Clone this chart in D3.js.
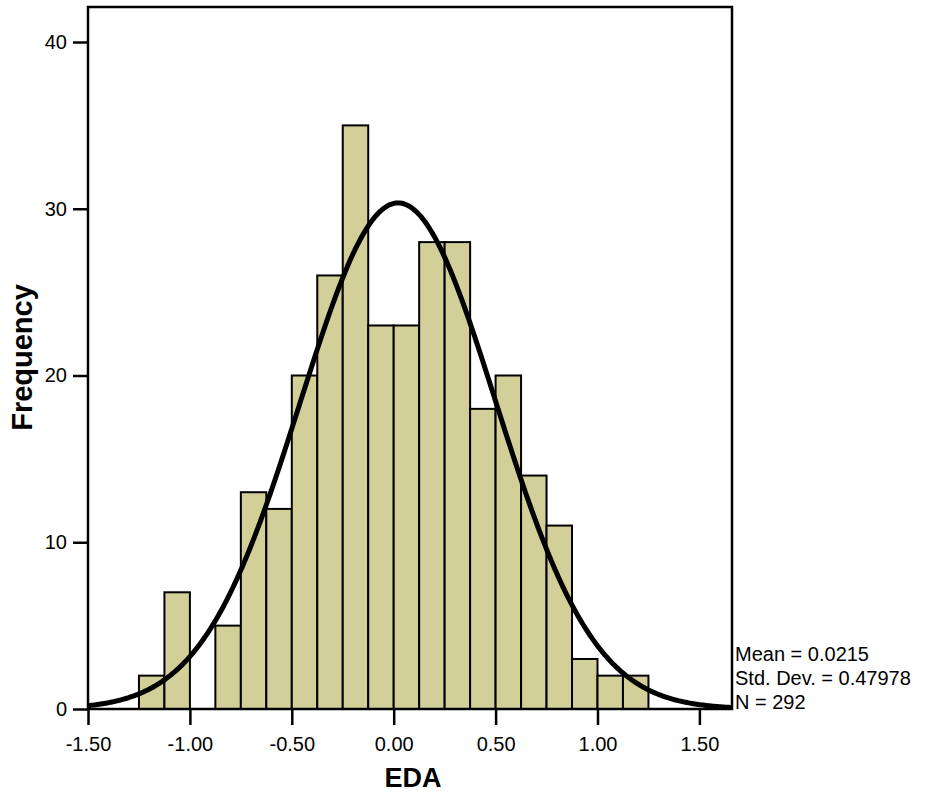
<!DOCTYPE html>
<html><head><meta charset="utf-8">
<script src="https://cdn.jsdelivr.net/npm/d3@7"></script>
<style>body{margin:0;background:#fff}svg{display:block}text{font-family:"Liberation Sans",Arial,sans-serif}</style>
</head><body>
<svg id="c" width="929" height="800"></svg>
<script>
const binStarts = [-1.25,-1.125,-1.0,-0.875,-0.75,-0.625,-0.5,-0.375,-0.25,-0.125,0.0,0.125,0.25,0.375,0.5,0.625,0.75,0.875,1.0,1.125];
const binWidth = 0.125;
const counts = [2,7,0,5,13,12,20,26,35,23,23,28,28,18,20,14,11,3,2,2];
const xTicks = [-1.5,-1.0,-0.5,0.0,0.5,1.0,1.5];
const yTicks = [0,10,20,30,40];
const mean = 0.0215, sd = 0.47978, N = 292;
const statsLines = ["Mean = 0.0215","Std. Dev. = 0.47978","N = 292"];

const svg = d3.select("#c");
const L=88, R=732, T=7, B=709;
const x = d3.scaleLinear().domain([-1.5,1.66]).range([L,R]);
const y = d3.scaleLinear().domain([0,42.1]).range([B,T]);

svg.append("g").selectAll("rect").data(counts).join("rect")
  .attr("x",(d,i)=>x(binStarts[i])).attr("width",(d,i)=>x(binStarts[i]+binWidth)-x(binStarts[i]))
  .attr("y",d=>y(d)).attr("height",d=>y(0)-y(d))
  .attr("fill","#d3cf99").attr("stroke","#000").attr("stroke-width",2);

// normal curve fitted from the displayed statistics
const pts = d3.range(0,401).map(i=>-1.5+i*(1.66+1.5)/400);
const pdf = v => N*binWidth/(sd*Math.sqrt(2*Math.PI))*Math.exp(-0.5*((v-mean)/sd)**2);
svg.append("path").datum(pts)
  .attr("d",d3.line().x(v=>x(v)).y(v=>y(pdf(v))))
  .attr("fill","none").attr("stroke","#000").attr("stroke-width",5);

// frame
svg.append("rect").attr("x",L).attr("y",T).attr("width",R-L).attr("height",B-T)
  .attr("fill","none").attr("stroke","#000").attr("stroke-width",2.5);

const fmt = d => d3.format(".2f")(d).replace("\u2212","-");
const xa = svg.append("g").attr("transform",`translate(0,${B})`)
  .call(d3.axisBottom(x).tickValues(xTicks).tickFormat(fmt).tickSize(16).tickPadding(12));
const ya = svg.append("g").attr("transform",`translate(${L},0)`)
  .call(d3.axisLeft(y).tickValues(yTicks).tickFormat(d3.format("d")).tickSize(15).tickPadding(6));
[xa,ya].forEach(a=>{
  a.select(".domain").remove();
  a.selectAll(".tick line").attr("stroke","#000").attr("stroke-width",2.5);
  a.selectAll("text").attr("fill","#000").style("font-size","20px").style("font-family",'"Liberation Sans",Arial,sans-serif');
});

svg.append("text").attr("x",413).attr("y",787).attr("text-anchor","middle")
  .style("font-size","27px").style("font-weight","bold").text("EDA");
svg.append("text").attr("transform","translate(32,357.5) rotate(-90)").attr("text-anchor","middle")
  .style("font-size","29px").style("font-weight","bold").text("Frequency");

svg.append("g").selectAll("text").data(statsLines).join("text")
  .attr("x",735).attr("y",(d,i)=>661+i*24).style("font-size","20px").text(d=>d);
</script>
</body></html>
